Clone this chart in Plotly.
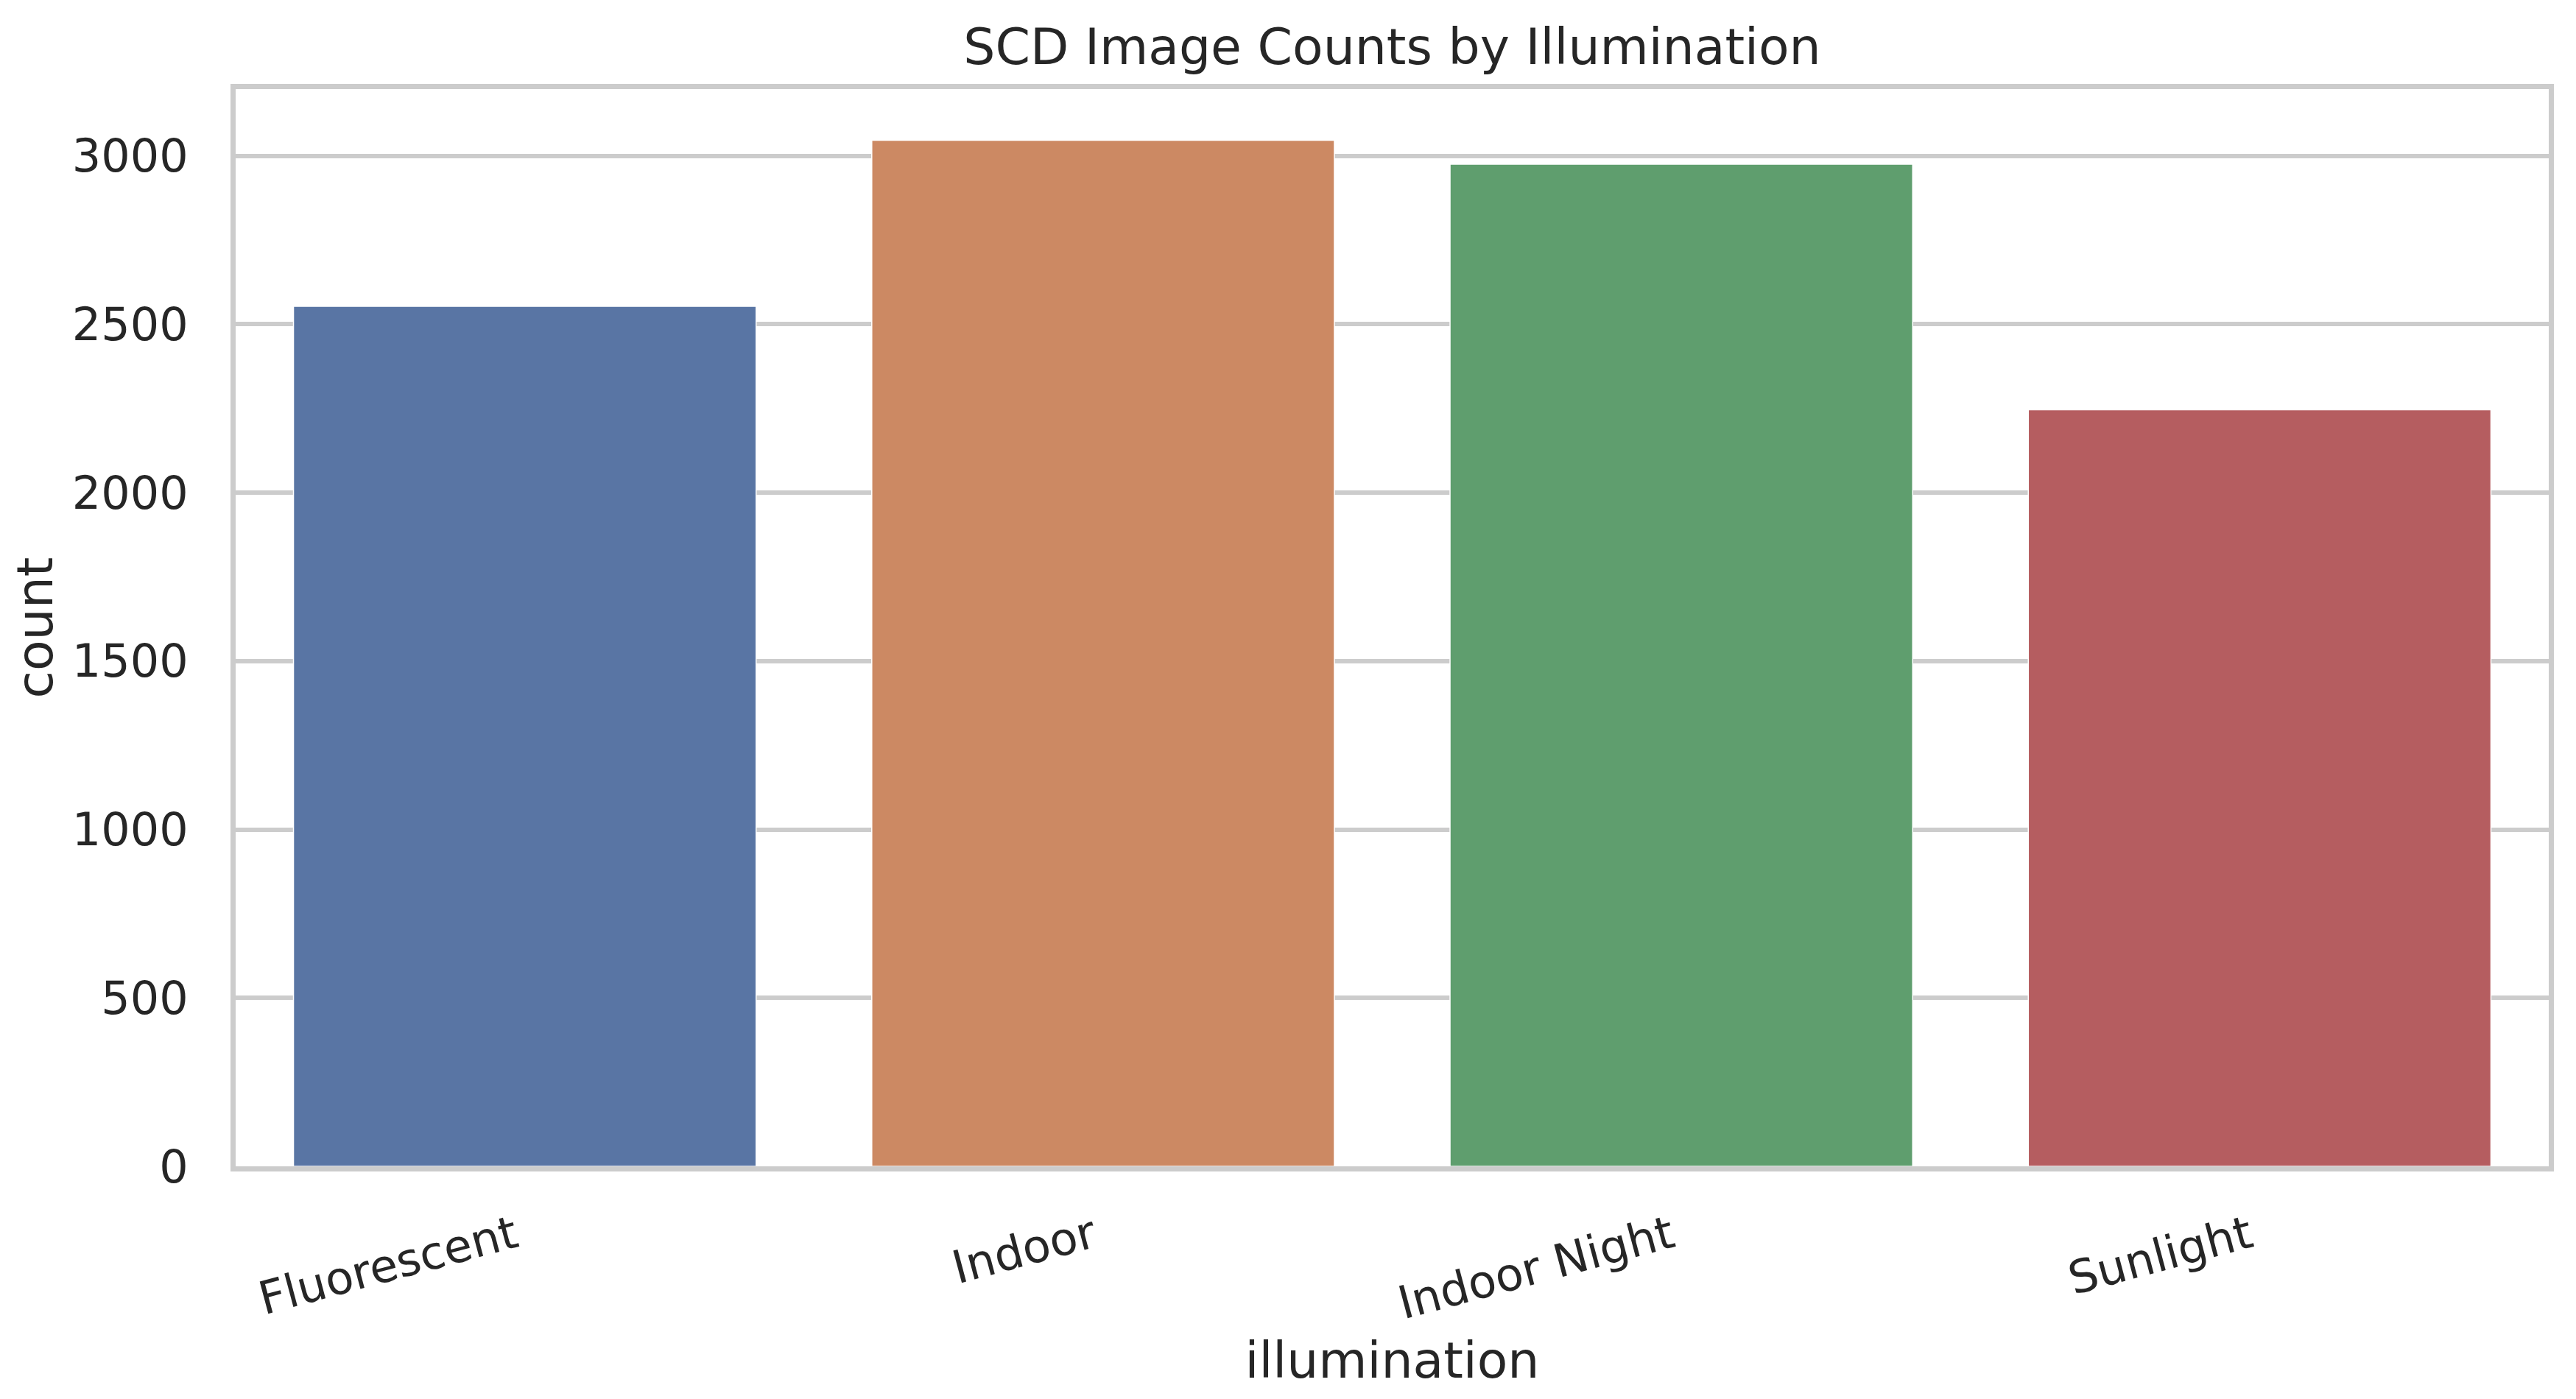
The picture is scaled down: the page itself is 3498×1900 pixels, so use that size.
import plotly.graph_objects as go

# Image counts per illumination condition
categories = ["Fluorescent", "Indoor", "Indoor Night", "Sunlight"]
counts = [2553, 3046, 2975, 2246]
bar_colors = ["#5975a4", "#cc8963", "#5f9e6e", "#b55d60"]
y_ticks = [0, 500, 1000, 1500, 2000, 2500, 3000]

FONT = "DejaVu Sans"
TEXT = "#262626"
GRID = "#cccccc"

fig = go.Figure()
fig.add_trace(
    go.Bar(
        x=categories,
        y=counts,
        marker=dict(color=bar_colors, line=dict(color="white", width=1.5)),
        width=0.8,
        showlegend=False,
    )
)

fig.update_xaxes(
    title=dict(text="illumination", font=dict(size=68, color=TEXT, family=FONT), standoff=21),
    tickangle=-15,
    tickfont=dict(size=62, color=TEXT, family=FONT),
    showgrid=False,
    showline=True,
    mirror=True,
    linecolor=GRID,
    linewidth=7,
    ticks="",
    ticklabelstandoff=28,
    ticklabelshift=-14,
    range=[-0.5, 3.5],
)
fig.update_yaxes(
    title=dict(text="count", font=dict(size=68, color=TEXT, family=FONT), standoff=30),
    tickvals=y_ticks,
    tickfont=dict(size=62, color=TEXT, family=FONT),
    showgrid=True,
    gridcolor=GRID,
    gridwidth=5.5,
    zeroline=False,
    showline=True,
    mirror=True,
    linecolor=GRID,
    linewidth=7,
    ticks="",
    ticklabelstandoff=45,
    range=[0, 3198],
)
fig.update_layout(
    title=dict(
        text="SCD Image Counts by Illumination",
        font=dict(size=68, color=TEXT, family=FONT),
        x=0.5,
        xref="paper",
        y=1 - 55 / 1900,
        yref="container",
        yanchor="middle",
    ),
    width=3498,
    height=1900,
    margin=dict(l=298, r=45, t=113, b=324),
    plot_bgcolor="white",
    paper_bgcolor="white",
    bargap=0.2,
)

fig.write_html("out.html")
